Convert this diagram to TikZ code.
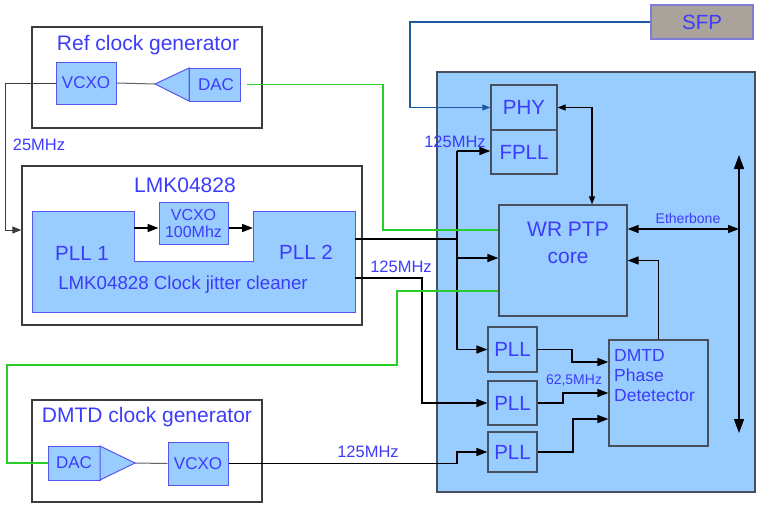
\documentclass[tikz,border=0pt]{standalone}
\usepackage{fontspec}
\setmainfont{Liberation Sans}
\usetikzlibrary{arrows.meta,calc}
\definecolor{tb}{RGB}{60,60,250}
\definecolor{lb}{RGB}{153,204,255}
\definecolor{cb}{RGB}{85,85,240}
\definecolor{og}{RGB}{60,60,60}
\definecolor{pg}{RGB}{70,80,95}
\definecolor{sfpfill}{RGB}{170,163,155}
\definecolor{sfpdraw}{RGB}{125,125,215}
\definecolor{sfpline}{RGB}{30,90,160}
\definecolor{gl}{RGB}{40,205,40}
\begin{document}
\begin{tikzpicture}[x=1pt,y=-1pt,
  outer/.style={draw=og, line width=1.3pt},
  comp/.style={draw=cb, fill=lb, line width=1pt, inner sep=0pt, text=tb},
  pbox/.style={draw=pg, fill=lb, line width=1.3pt, inner sep=0pt, text=tb},
  lbl/.style={text=tb, inner sep=0pt},
  ft/.style={font=\fontsize{21}{25}\selectfont},
  fa/.style={font=\fontsize{20.5}{24}\selectfont},
  fb/.style={font=\fontsize{17}{20}\selectfont},
  fc/.style={font=\fontsize{16.5}{19}\selectfont},
  fd/.style={font=\fontsize{14}{17}\selectfont},
  wire/.style={line width=1.6pt, draw=black},
  arr/.style={wire, -{Triangle[length=11pt,width=8pt]}},
  darr/.style={line width=1.2pt, {Triangle[length=8pt,width=6pt]}-{Triangle[length=8pt,width=6pt]}},
  bigdarr/.style={line width=1.6pt, {Triangle[length=14pt,width=10pt]}-{Triangle[length=14pt,width=10pt]}},
  grn/.style={line width=1.6pt, draw=gl},
  gw/.style={line width=1pt, draw=og!80}
]
\useasboundingbox (0,0) rectangle (759,504);

% ---------- right panel ----------
\path[fill=lb, draw=pg, line width=1.3pt] (437,72) rectangle (755,492);

% ---------- Ref clock generator ----------
\node[outer, minimum width=230pt, minimum height=101pt, inner sep=0pt] (refbox) at (147,77.5) {};
\node[lbl, ft] (reftitle) at (148,45) {Ref clock generator};
\node[comp, fb, minimum width=60pt, minimum height=42pt] (refvcxo) at (86,83) {VCXO};
\node[comp, fb, minimum width=51pt, minimum height=33pt] (refdac) at (214.5,84.5) {\hspace*{3pt}DAC};
\coordinate (reftip) at (155,84);
\draw[draw=cb, fill=lb, line width=1pt] (reftip) -- (189,68) -- (189,101) -- cycle;
\draw[gw] (refvcxo.east) -- (reftip);
\node[lbl, fc] (l25) at (39,145) {25MHz};

% ---------- LMK04828 ----------
\node[outer, minimum width=340pt, minimum height=159pt, inner sep=0pt] (lmkbox) at (192,245.5) {};
\node[lbl, ft] (lmktitle) at (185,185) {LMK04828};
\draw[draw=cb, fill=lb, line width=1pt] (32,211) -- (134,211) -- (134,261) -- (253,261) -- (253,211) -- (355,211) -- (355,312) -- (32,312) -- cycle;
\node[lbl, fa] (pll1) at (82,253) {PLL 1};
\node[lbl, fa] (pll2) at (306,252) {PLL 2};
\node[lbl, font=\fontsize{18.7}{22}\selectfont] (lmkcl) at (183,285) {LMK04828 Clock jitter cleaner};
\node[comp, minimum width=69pt, minimum height=42pt, align=center, font=\fontsize{16}{17}\selectfont] (lmkvcxo) at (193.5,223) {VCXO\\100Mhz};
\coordinate (p1e) at (134,228);
\coordinate (p2w) at (253,228);
\coordinate (p2oa) at (355,239);
\coordinate (p2ob) at (355,278);
\draw[arr] (p1e) -- (p1e -| lmkvcxo.west);
\draw[arr] (p1e -| lmkvcxo.east) -- (p2w);

% ref vcxo -> LMK
\coordinate (kr) at (5,230);
\draw[gw, -{Triangle[length=9pt,width=7pt]}, draw=og] (refvcxo.west) -| (kr) -- (kr -| lmkbox.west);

% ---------- DMTD clock generator ----------
\node[outer, minimum width=230pt, minimum height=102pt, inner sep=0pt] (dmbox) at (147,451) {};
\node[lbl, ft] (dmtitle) at (147,417) {DMTD clock generator};
\node[comp, fb, minimum width=52pt, minimum height=34pt] (dac2) at (74,463) {DAC};
\coordinate (tip2) at (135,463);
\draw[draw=cb, fill=lb, line width=1pt] (100,446) -- (tip2) -- (100,480) -- cycle;
\node[comp, fb, minimum width=60pt, minimum height=43pt] (vcxo2) at (198,463.5) {VCXO};
\draw[gw] (tip2) -- (vcxo2.west);
\node[lbl, fc] (l125c) at (368,452) {125MHz};

% ---------- panel contents ----------
\node[draw=sfpdraw, fill=sfpfill, line width=1.3pt, text=tb, fa, minimum width=102pt, minimum height=34pt, inner sep=0pt] (sfp) at (702,22) {SFP};
\node[pbox, fa, minimum width=66pt, minimum height=45pt] (phy) at (524,107.5) {PHY};
\node[pbox, fa, minimum width=66pt, minimum height=44pt] (fpll) at (524,152) {FPLL};
\node[pbox, minimum width=128pt, minimum height=111pt] (wr) at (563,260.5) {};
\node[lbl, align=center, font=\fontsize{21}{27}\selectfont] (wrtxt) at (568,243) {WR PTP\\core};
\node[pbox, fa, minimum width=49pt, minimum height=45pt] (plla) at (512.5,349.5) {PLL};
\node[pbox, fa, minimum width=49pt, minimum height=44pt] (pllb) at (512.5,403) {PLL};
\node[pbox, fa, minimum width=49pt, minimum height=40pt] (pllc) at (512.5,452) {PLL};
\node[pbox, minimum width=99pt, minimum height=106pt] (dmtd) at (658.5,393) {};
\node[lbl, anchor=north west, align=left, font=\fontsize{17.5}{20}\selectfont] (dmtdtxt) at (614,349) {DMTD\\Phase\\Detetector};
\node[lbl, fc] (l125a) at (455,142) {125MHz};
\node[lbl, fc] (l125b) at (401,267) {125MHz};
\node[lbl, fd] (l625) at (574,380) {62,5MHz};
\node[lbl, fd] (leth) at (688,218) {Etherbone};

% SFP -> PHY
\coordinate (ks) at (410,22);
\draw[line width=1.2pt, draw=sfpline, -{Triangle[length=8pt,width=6pt]}] (sfp.west) -- (ks) |- (phy.west);

% PHY <-> WR
\coordinate (kp) at (592,107.5);
\draw[darr] (phy.east) -- (kp) -- (kp |- wr.north);

% Etherbone
\coordinate (et) at (739,155);
\coordinate (eb) at (739,433);
\coordinate (ek) at (739,229);
\draw[bigdarr] (et) -- (eb);
\draw[line width=1.4pt, {Triangle[length=11pt,width=8pt]}-{Triangle[length=11pt,width=8pt]}] (wr.east |- ek) -- (ek);

% DMTD -> WR
\draw[arr] (dmtd.north) |- (wr.east);

% PLL2 upper output bus
\coordinate (bus) at (457,151);
\coordinate (busj) at (457,239);
\coordinate (busc) at (457,258);
\draw[wire] (p2oa) -- (busj);
\draw[arr] (bus) -- (bus -| fpll.west);
\draw[arr] (bus) |- (plla.west);
\draw[arr] (busc) -- (busc -| wr.west);

% PLL2 lower output
\coordinate (b2) at (422,278);
\draw[arr] (p2ob) -- (b2) |- (pllb.west);

% DMTD VCXO -> PLL c
\coordinate (c3) at (457,463.5);
\draw[arr] (vcxo2.east) -- (c3) |- (pllc.west);

% PLLs -> DMTD
\coordinate (ka) at (572,362);
\coordinate (kb) at (563,393);
\coordinate (kc) at (573,419);
\draw[arr] (plla.east) -| (ka) -- (ka -| dmtd.west);
\draw[arr] (pllb.east) -| (kb) -- (kb -| dmtd.west);
\draw[arr] (pllc.east) -| (kc) -- (kc -| dmtd.west);

% green lines
\coordinate (g1) at (383,230);
\draw[grn] ($(refdac.east)+(6,0)$) -| (g1) -- (g1 -| wr.west);
\coordinate (g2a) at (397,291);
\coordinate (g2b) at (7,365);
\draw[grn] (g2a -| wr.west) -- (g2a) |- (g2b) |- (dac2.west);
\end{tikzpicture}
\end{document}
